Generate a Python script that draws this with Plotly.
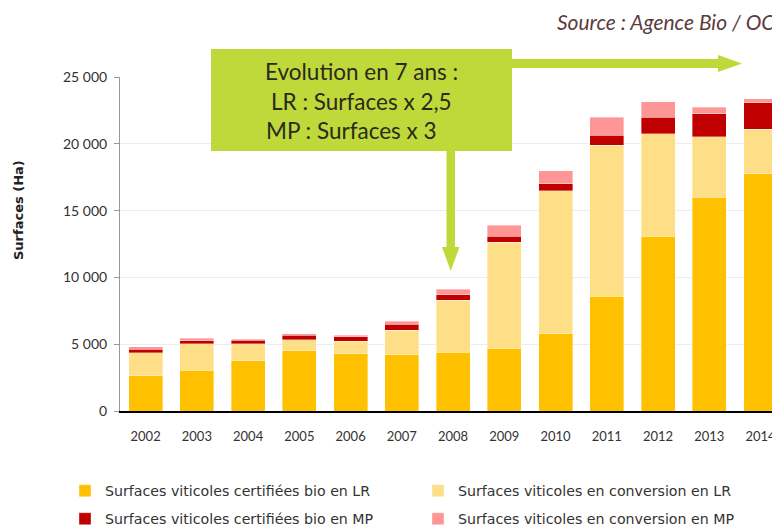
import plotly.graph_objects as go

years = ["2002", "2003", "2004", "2005", "2006", "2007", "2008",
         "2009", "2010", "2011", "2012", "2013", "2014"]

# Stack tops (Ha)
lr_cert = [2650, 3050, 3775, 4500, 4300, 4200, 4400, 4700, 5775, 8575, 13075, 16000, 17750]
lr_conv_top = [4370, 5020, 5050, 5350, 5225, 6050, 8275, 12650, 16500, 19900, 20750, 20525, 21075]
mp_cert_top = [4620, 5250, 5300, 5675, 5575, 6500, 8700, 13075, 17000, 20650, 22000, 22250, 23075]
mp_conv_top = [4820, 5450, 5375, 5775, 5675, 6700, 9100, 13900, 17975, 22000, 23150, 22725, 23375]

lr_conv = [b - a for a, b in zip(lr_cert, lr_conv_top)]
mp_cert = [b - a for a, b in zip(lr_conv_top, mp_cert_top)]
mp_conv = [b - a for a, b in zip(mp_cert_top, mp_conv_top)]

names = ["Surfaces viticoles certifiées bio en LR",
         "Surfaces viticoles en conversion en LR",
         "Surfaces viticoles certifiées bio en MP",
         "Surfaces viticoles en conversion en MP"]
colors = ["#FFC000", "#FEDF87", "#C00000", "#FF9696"]
series = [lr_cert, lr_conv, mp_cert, mp_conv]
legends = ["legend", "legend2", "legend3", "legend4"]

callout_lines = ["Evolution en 7 ans :", "LR : Surfaces x 2,5", "MP : Surfaces x 3"]
source_text = "Source : Agence Bio / OC"

# The page body adds an 8px offset; the figure is sized so it ends at the window edge.
OFF = 8
W, H = 780 - OFF, 528 - OFF
PLOT_L, PLOT_R, PLOT_T, PLOT_B = 120, 780, 77, 411   # window pixels
ML, MR, MT, MB = PLOT_L - OFF, 780 - PLOT_R, PLOT_T - OFF, 528 - PLOT_B
PW, PH = PLOT_R - PLOT_L, PLOT_B - PLOT_T


def px(x):
    return (x - PLOT_L) / PW


def py(y):
    return (PLOT_B - y) / PH


fig = go.Figure()
for name, col, vals, lg in zip(names, colors, series, legends):
    fig.add_trace(go.Bar(x=years, y=vals, name=name, legend=lg,
                         marker=dict(color=col, line=dict(width=0.6, color="rgba(255,255,255,0.6)"))))

green = "#BFD83A"
shapes = [
    dict(type="rect", xref="paper", yref="paper", x0=px(211), x1=px(512), y0=py(151), y1=py(49),
         fillcolor=green, line=dict(width=0), layer="above"),
    dict(type="rect", xref="paper", yref="paper", x0=px(511), x1=px(720), y0=py(68), y1=py(59),
         fillcolor=green, line=dict(width=0)),
    dict(type="path", xref="paper", yref="paper",
         path=f"M{px(718)},{py(55)} L{px(742)},{py(63.5)} L{px(718)},{py(72)} Z",
         fillcolor=green, line=dict(width=0)),
    dict(type="rect", xref="paper", yref="paper", x0=px(446.5), x1=px(455), y0=py(250), y1=py(150),
         fillcolor=green, line=dict(width=0)),
    dict(type="path", xref="paper", yref="paper",
         path=f"M{px(442)},{py(247)} L{px(450.7)},{py(271)} L{px(459.5)},{py(247)} Z",
         fillcolor=green, line=dict(width=0)),
]

annotations = []
line_pos = [(361, 72), (361, 101), (351, 130)]
for t, (xx, yy) in zip(callout_lines, line_pos):
    annotations.append(dict(text=t, xref="paper", yref="paper", x=px(xx), y=py(yy),
                            xanchor="center", yanchor="middle", showarrow=False,
                            font=dict(family="Lato", size=22.5, color="#2a2a1c")))
annotations.append(dict(text=source_text, xref="paper", yref="paper", x=px(777), y=py(22),
                        xanchor="right", yanchor="middle", showarrow=False,
                        font=dict(family="Lato", size=21, color="#5a3c3c", style="italic")))
annotations.append(dict(text="<b>Surfaces (Ha)</b>", xref="paper", yref="paper", x=px(18), y=py(210),
                        xanchor="center", yanchor="middle", showarrow=False, textangle=-90,
                        font=dict(family="DejaVu Sans", size=13, color="#222")))

legend_font = dict(family="DejaVu Sans", size=14.2, color="#333")
leg_pos = [(65, 491), (418, 491), (65, 519), (418, 519)]
leg_layout = {}
for lg, (lx, ly) in zip(legends, leg_pos):
    leg_layout[lg] = dict(orientation="h", xref="container", yref="container",
                          x=(lx - OFF) / W, y=1 - (ly - OFF) / H,
                          xanchor="left", yanchor="middle", font=legend_font,
                          bgcolor="rgba(0,0,0,0)")

fig.update_layout(
    width=W, height=H,
    margin=dict(l=ML, r=MR, t=MT, b=MB, autoexpand=False),
    paper_bgcolor="white", plot_bgcolor="white",
    barmode="stack", bargap=0.337,
    separators=", ",
    showlegend=True,
    shapes=shapes, annotations=annotations,
    xaxis=dict(type="category", range=[-0.5, 12.38], showline=True, linecolor="black", linewidth=2,
               ticks="outside", ticklen=12, tickcolor="rgba(0,0,0,0)",
               tickfont=dict(family="Lato", size=13, color="#333"), showgrid=False),
    yaxis=dict(range=[0, 25000], dtick=5000, tickformat=",d", showline=True, linecolor="#999",
               linewidth=1, ticks="outside", ticklen=5, tickcolor="#999", ticklabelstandoff=4,
               gridcolor="#ececec", gridwidth=1, zeroline=False,
               tickfont=dict(family="Lato", size=14, color="#333")),
    **leg_layout,
)

fig.write_html("out.html")
